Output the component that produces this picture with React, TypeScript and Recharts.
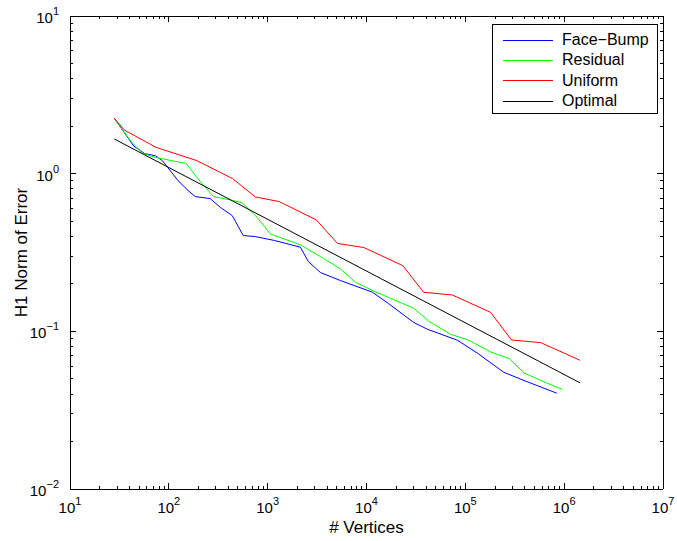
import React from 'react';
import { LineChart, Line, XAxis, YAxis, Legend } from 'recharts';

// values
const faceBumpVertices = [28, 44, 57, 73, 86, 98, 124, 157, 185, 262, 331, 438, 566, 750, 1170, 2140, 2580, 3420, 5450, 11500, 16700, 29900, 41500, 83600, 133000, 245000, 364000, 843000];
const faceBumpError = [2.25, 1.5, 1.34, 1.3, 1.21, 1.09, 0.903, 0.781, 0.715, 0.695, 0.612, 0.542, 0.405, 0.399, 0.377, 0.342, 0.277, 0.236, 0.21, 0.177, 0.15, 0.114, 0.103, 0.0877, 0.0726, 0.055, 0.0497, 0.0405];

const residualVertices = [28, 42, 55, 73, 150, 192, 283, 418, 550, 780, 1060, 2140, 3420, 5450, 7730, 11400, 30100, 42800, 71000, 105000, 181000, 277000, 393000, 627000, 962000];
const residualError = [2.25, 1.58, 1.34, 1.27, 1.16, 0.947, 0.715, 0.682, 0.655, 0.529, 0.415, 0.354, 0.298, 0.249, 0.205, 0.182, 0.14, 0.116, 0.0957, 0.0886, 0.074, 0.0672, 0.0545, 0.0478, 0.0428];

const uniformVertices = [28, 35.5, 74, 192, 442, 750, 1310, 3110, 5080, 9400, 23300, 37800, 73800, 180000, 293000, 579000, 1450000];
const uniformError = [2.25, 1.89, 1.47, 1.21, 0.93, 0.712, 0.665, 0.509, 0.361, 0.34, 0.261, 0.177, 0.17, 0.132, 0.0881, 0.0848, 0.0655];

const optimalVertices = [28, 1450000];
const optimalError = [1.66, 0.0471];

const seriesNames = ['Face\u2212Bump', 'Residual', 'Uniform', 'Optimal'];
const seriesColors = ['#0000ff', '#00ff00', '#ff0000', '#000000'];

const xDecades = [10, 100, 1000, 10000, 100000, 1000000, 10000000];
const yDecades = [0.01, 0.1, 1, 10];

const toPoints = (xs: number[], ys: number[]) => xs.map((x, i) => ({ x, y: ys[i] }));

const seriesData = [
  toPoints(faceBumpVertices, faceBumpError),
  toPoints(residualVertices, residualError),
  toPoints(uniformVertices, uniformError),
  toPoints(optimalVertices, optimalError),
];

// major decades plus 2..9 minor ticks
const withMinor = (decades: number[]) => {
  const out: number[] = [];
  decades.forEach((d, i) => {
    out.push(d);
    if (i < decades.length - 1) for (let m = 2; m <= 9; m++) out.push(m * d);
  });
  return out;
};
const xTicks = withMinor(xDecades);
const yTicks = withMinor(yDecades);

const FONT = '"Liberation Sans", Arial, Helvetica, sans-serif';
const MAJOR = 6;
const MINOR = 3;
const AXIS_LINE = { stroke: '#000', shapeRendering: 'crispEdges' } as any;

const isMajor = (v: number) => {
  const l = Math.log10(v);
  return Math.abs(l - Math.round(l)) < 1e-6;
};
const expLabel = (v: number) => {
  const e = Math.round(Math.log10(v));
  return e < 0 ? `\u2212${-e}` : `${e}`;
};

const BottomTick = ({ x, y, payload }: any) => {
  const major = isMajor(payload.value);
  return (
    <g>
      <line x1={x} y1={y} x2={x} y2={y - (major ? MAJOR : MINOR)} stroke="#000" shapeRendering="crispEdges" />
      {major && (
        <text x={x} y={y + 24} textAnchor="middle" fontSize={15} fontFamily={FONT} fill="#000">
          10<tspan dy={-8} fontSize={11}>{expLabel(payload.value)}</tspan>
        </text>
      )}
    </g>
  );
};

const LeftTick = ({ x, y, payload }: any) => {
  const major = isMajor(payload.value);
  return (
    <g>
      <line x1={x} y1={y} x2={x + (major ? MAJOR : MINOR)} y2={y} stroke="#000" shapeRendering="crispEdges" />
      {major && (
        <text x={x - 11} y={y + 7} textAnchor="end" fontSize={15} fontFamily={FONT} fill="#000">
          10<tspan dy={-8} fontSize={11}>{expLabel(payload.value)}</tspan>
        </text>
      )}
    </g>
  );
};

const TopTick = ({ x, y, payload }: any) => {
  const major = isMajor(payload.value);
  return <line x1={x} y1={y} x2={x} y2={y + (major ? MAJOR : MINOR)} stroke="#000" shapeRendering="crispEdges" />;
};

const RightTick = ({ x, y, payload }: any) => {
  const major = isMajor(payload.value);
  return <line x1={x} y1={y} x2={x - (major ? MAJOR : MINOR)} y2={y} stroke="#000" shapeRendering="crispEdges" />;
};

const YLabel = ({ viewBox }: any) => {
  const cx = viewBox.x + 27;
  const cy = viewBox.y + viewBox.height / 2;
  return (
    <text x={cx} y={cy} transform={`rotate(-90 ${cx} ${cy})`} textAnchor="middle" fontSize={17} fontFamily={FONT} fill="#000">
      H1 Norm of Error
    </text>
  );
};

const XLabel = ({ viewBox }: any) => {
  const cx = viewBox.x + viewBox.width / 2;
  return (
    <text x={cx} y={viewBox.y + 44} textAnchor="middle" fontSize={17} fontFamily={FONT} fill="#000">
      # Vertices
    </text>
  );
};

const LegendBox = ({ payload }: any) => {
  const items = [...(payload || [])].sort((a: any, b: any) => seriesNames.indexOf(a.value) - seriesNames.indexOf(b.value));
  return (
    <div style={{ border: '1px solid #000', background: '#fff', width: 164, height: 83, paddingTop: 5, boxSizing: 'content-box', textAlign: 'left' }}>
      {items.map((p: any) => (
        <div key={p.value} style={{ display: 'flex', alignItems: 'center', height: 20.3 }}>
          <span style={{ marginLeft: 10, width: 50, flexShrink: 0, borderTop: `1px solid ${p.color}`, height: 0 }} />
          <span style={{ marginLeft: 9, fontSize: 16, fontFamily: FONT, color: '#000', lineHeight: '20px', whiteSpace: 'nowrap' }}>{p.value}</span>
        </div>
      ))}
    </div>
  );
};

export default function App() {
  return (
    <div style={{ position: 'absolute', left: 0, top: 0, width: 677, height: 541, background: '#fff' }}>
      <LineChart width={677} height={541} margin={{ top: 0, right: 0, bottom: 0, left: 0 }}>
        <XAxis
          xAxisId={0}
          type="number"
          dataKey="x"
          scale="log"
          domain={[10, 10000000]}
          allowDataOverflow
          ticks={xTicks}
          interval={0}
          height={52}
          tickSize={0}
          tickMargin={0}
          tickLine={false}
          axisLine={AXIS_LINE}
          tick={<BottomTick />}
          label={<XLabel />}
        />
        <XAxis
          xAxisId="top"
          orientation="top"
          type="number"
          dataKey="x"
          scale="log"
          domain={[10, 10000000]}
          allowDataOverflow
          ticks={xTicks}
          interval={0}
          height={16}
          tickSize={0}
          tickMargin={0}
          tickLine={false}
          axisLine={AXIS_LINE}
          tick={<TopTick />}
        />
        <YAxis
          yAxisId={0}
          type="number"
          scale="log"
          domain={[0.01, 10]}
          allowDataOverflow
          ticks={yTicks}
          interval={0}
          width={70}
          tickSize={0}
          tickMargin={0}
          tickLine={false}
          axisLine={AXIS_LINE}
          tick={<LeftTick />}
          label={<YLabel />}
        />
        <YAxis
          yAxisId="right"
          orientation="right"
          type="number"
          scale="log"
          domain={[0.01, 10]}
          allowDataOverflow
          ticks={yTicks}
          interval={0}
          width={14}
          tickSize={0}
          tickMargin={0}
          tickLine={false}
          axisLine={AXIS_LINE}
          tick={<RightTick />}
        />
        <Legend
          layout="vertical"
          align="center"
          verticalAlign="middle"
          wrapperStyle={{ top: 24, left: 492, width: 166, height: 90 }}
          content={<LegendBox />}
        />
        {seriesData.map((d, i) => (
          <Line
            key={seriesNames[i]}
            data={d}
            dataKey="y"
            name={seriesNames[i]}
            stroke={seriesColors[i]}
            strokeWidth={1}
            dot={false}
            isAnimationActive={false}
          />
        ))}
      </LineChart>
    </div>
  );
}
